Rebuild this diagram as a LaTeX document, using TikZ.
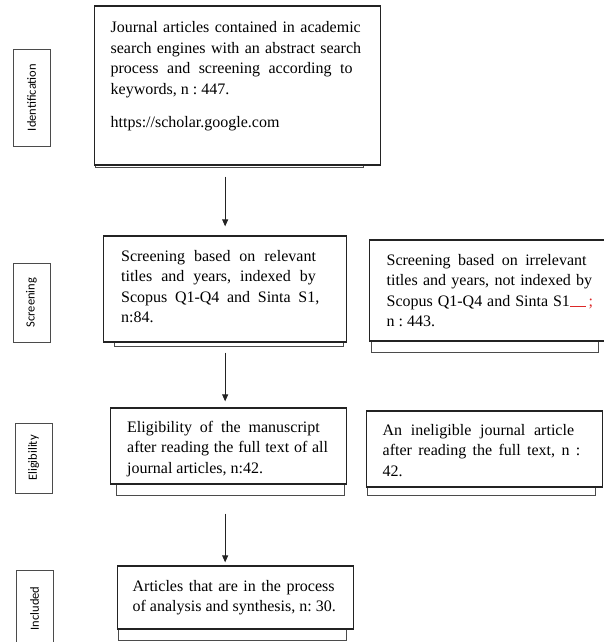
\documentclass[tikz,border=0pt]{standalone}
\usepackage{fontspec}
\setmainfont{Liberation Serif}
\newfontfamily\phasefont{Carlito}
\usepackage{tikz}
\usetikzlibrary{arrows.meta, positioning, calc}
\definecolor{boxline}{RGB}{35, 35, 35}
\definecolor{backline}{RGB}{75, 75, 75}
\definecolor{spellred}{RGB}{220, 40, 40}

\begin{document}
\begin{tikzpicture}[x=1pt, y=-1pt,
  stagebox/.style={draw=boxline, line width=1.3pt, fill=white, anchor=base west,
    inner ysep=0pt, font=\fontsize{16}{20.5}\selectfont,
    execute at begin node={\frenchspacing\hyphenpenalty=10000\exhyphenpenalty=10000\tolerance=9999\spaceskip=4pt plus 12pt minus 1pt}},
  backbox/.style={draw=backline, line width=0.9pt},
  phase/.style={draw=backline, line width=0.9pt, rotate=90, minimum height=37pt,
    inner sep=0pt, font=\phasefont\fontsize{12.5}{14}\selectfont},
  flow/.style={draw=boxline, line width=0.8pt, -{Triangle[length=7pt, width=6pt]}}]
  \useasboundingbox (0,0) rectangle (604,642);
  \clip (0,0) rectangle (604,642);

  % ---- Phases ----
  \node[phase, minimum width=97pt] (ident)  at (31.5, 97.5)  {Identification};
  \node[phase, minimum width=79pt] (screen) at (31.5, 302.5) {Screening};
  \node[phase, minimum width=70pt] (elig)   at (33.5, 458)   {Eligibility};
  \node[phase, minimum width=77pt] (incl)   at (34.5, 608.5) {Included};

  % ---- Identification ----
  \node[stagebox, text width=254pt, inner xsep=16pt, text height=27pt, text depth=132pt] (found) at (94, 33)
    {Journal articles contained in academic search engines with an abstract search process and screening according to keywords, n : 447.\par\vspace{12.5pt}https://scholar.google.com};
  \draw[backbox] ([xshift=1pt]found.south west) |- ([xshift=-18pt, yshift=-2pt]found.south east) -- ([xshift=-18pt]found.south east);

  % ---- Screening ----
  \node[stagebox, text width=208pt, inner xsep=17.5pt, text height=25pt, text depth=81pt] (relevant) at (103, 261)
    {Screening based on relevant titles and years, indexed by Scopus Q1-Q4 and Sinta S1, n:84.};
  \draw[backbox] ([xshift=11pt]relevant.south west) |- ([xshift=-4pt, yshift=-4pt]relevant.south east) -- ([xshift=-4pt]relevant.south east);

  \node[stagebox, text width=209pt, inner xsep=17pt, text height=25pt, text depth=76pt] (irrelevant) at (369, 265)
    {Screening based on irrelevant titles and years, not indexed by Scopus Q1-Q4 and Sinta S1\textcolor{spellred}{\rule[-0.5pt]{16pt}{0.6pt}\,;} n : 443.};
  \draw[backbox] ([xshift=2pt]irrelevant.south west) |- ([xshift=-15pt, yshift=-11pt]irrelevant.south east) -- ([xshift=-15pt]irrelevant.south east);

  % ---- Eligibility ----
  \node[stagebox, text width=203pt, inner xsep=16.5pt, text height=24pt, text depth=52pt] (eligible) at (110, 432)
    {Eligibility of the manuscript after reading the full text of all journal articles, n:42.};
  \draw[backbox] ([xshift=6pt]eligible.south west) |- ([xshift=-3pt, yshift=-11pt]eligible.south east) -- ([xshift=-3pt]eligible.south east);

  \node[stagebox, text width=204pt, inner xsep=16pt, text height=24pt, text depth=52pt] (ineligible) at (366, 435)
    {An ineligible journal article after reading the full text, n : 42.};
  \draw[backbox] ([xshift=1pt]ineligible.south west) |- ([xshift=-8pt, yshift=-8pt]ineligible.south east) -- ([xshift=-8pt]ineligible.south east);

  % ---- Included ----
  \node[stagebox, text width=206pt, inner xsep=15pt, text height=25pt, text depth=38pt] (synth) at (117, 591)
    {Articles that are in the process of analysis and synthesis, n: 30.};
  \draw[backbox] ([xshift=1pt]synth.south west) |- ([xshift=-8pt, yshift=-11pt]synth.south east) -- ([xshift=-8pt]synth.south east);

  % ---- Flow ----
  \draw[flow, shorten <=11pt, shorten >=9pt] (found.south -| relevant.north) -- (relevant.north);
  \draw[flow, shorten <=10pt, shorten >=6pt] (relevant.south) -- (relevant.south |- eligible.north);
  \draw[flow, shorten <=29pt, shorten >=3pt] (eligible.south -| relevant.south) -- (synth.north -| relevant.south);
\end{tikzpicture}
\end{document}
